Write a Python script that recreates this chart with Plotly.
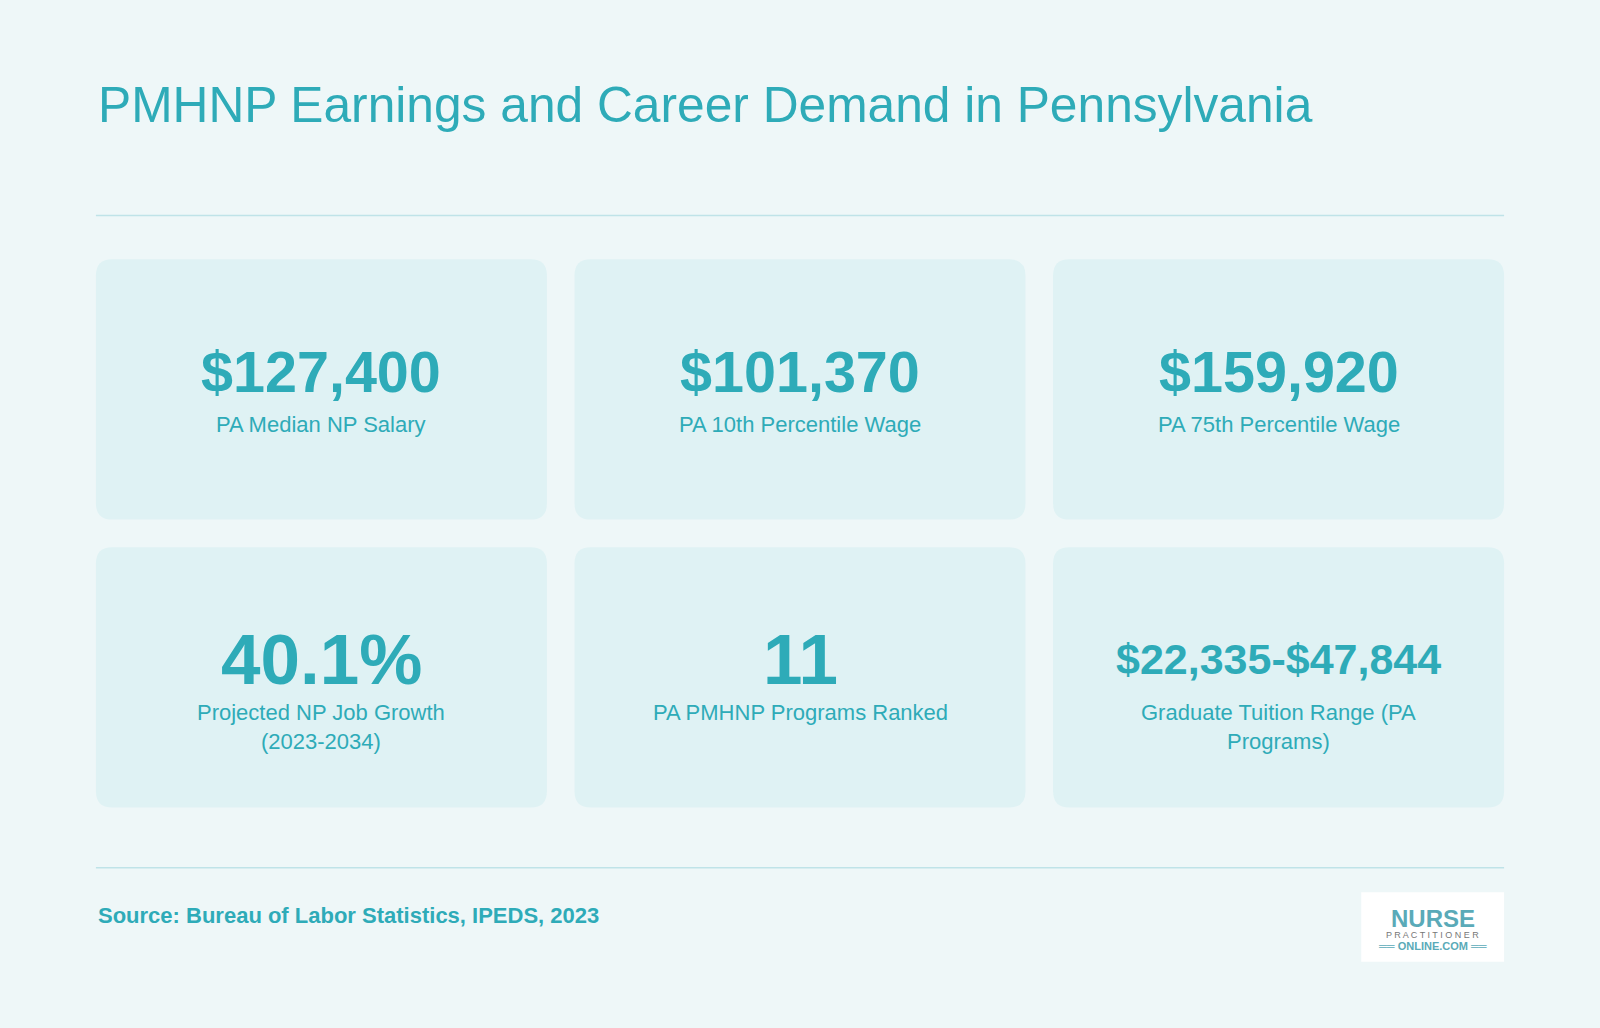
import plotly.graph_objects as go

# card contents (row by row)
values = ["$127,400", "$101,370", "$159,920", "40.1%", "11", "$22,335-$47,844"]
labels = ["PA Median NP Salary", "PA 10th Percentile Wage", "PA 75th Percentile Wage",
          "Projected NP Job Growth<br>(2023-2034)", "PA PMHNP Programs Ranked",
          "Graduate Tuition Range (PA<br>Programs)"]
value_sizes = [57.5, 57.5, 57.5, 71, 71, 43]

TEAL = "#2EABB8"
BG = "#EEF7F8"
CARD = "#DFF2F4"
FONT = "Liberation Sans, Arial, sans-serif"

W, H = 1600, 1028
# layout grid measured on a 1568-wide copy of the design
GW, GH = 1568, 1007


def rounded(x0, y0, x1, y1, r=16):
    return (f"M{x0+r},{y0} L{x1-r},{y0} Q{x1},{y0} {x1},{y0+r} L{x1},{y1-r} Q{x1},{y1} {x1-r},{y1} "
            f"L{x0+r},{y1} Q{x0},{y1} {x0},{y1-r} L{x0},{y0+r} Q{x0},{y0} {x0+r},{y0} Z")


fig = go.Figure()
shapes, annots = [], []

col_x = [94, 563, 1032]
row_y = [254, 536]
cw, ch = 442, 255

for i, (v, lab, fs) in enumerate(zip(values, labels, value_sizes)):
    x0 = col_x[i % 3]
    y0 = row_y[i // 3]
    shapes.append(dict(type="path", path=rounded(x0, y0, x0 + cw, y0 + ch), fillcolor=CARD,
                       line=dict(width=0), layer="below"))
    cx = x0 + cw / 2
    annots.append(dict(x=cx, y=y0 + 110, text=f"<b>{v}</b>", showarrow=False, yanchor="middle",
                       font=dict(family=FONT, size=fs, color=TEAL)))
    annots.append(dict(x=cx, y=y0 + 148, text=lab, showarrow=False, yanchor="top",
                       font=dict(family=FONT, size=22, color=TEAL)))

# divider lines
for yy in [211, 850]:
    shapes.append(dict(type="line", x0=94, x1=1474, y0=yy, y1=yy, line=dict(color="#BFE3E8", width=1.5)))

# logo box
shapes.append(dict(type="rect", x0=1334, x1=1474, y0=874, y1=942, fillcolor="white", line=dict(width=0)))
annots += [
    dict(x=1404, y=900, text="<b>NURSE</b>", showarrow=False, font=dict(family=FONT, size=24, color="#5AAAB8")),
    dict(x=1404, y=916, text="P R A C T I T I O N E R", showarrow=False, font=dict(family=FONT, size=9, color="#777777")),
    dict(x=1404, y=927, text="══ <b>ONLINE.COM</b> ══", showarrow=False, font=dict(family=FONT, size=11, color="#5AAAB8")),
]

annots.append(dict(x=94, y=103, xanchor="left", text="PMHNP Earnings and Career Demand in Pennsylvania",
                   showarrow=False, font=dict(family=FONT, size=49.7, color=TEAL)))
annots.append(dict(x=94, y=897, xanchor="left", text="<b>Source: Bureau of Labor Statistics, IPEDS, 2023</b>",
                   showarrow=False, font=dict(family=FONT, size=22, color=TEAL)))

fig.update_layout(
    width=W, height=H, margin=dict(l=0, r=0, t=0, b=0),
    paper_bgcolor=BG, plot_bgcolor=BG,
    xaxis=dict(range=[0, GW], visible=False, fixedrange=True),
    yaxis=dict(range=[GH, 0], visible=False, fixedrange=True),
    shapes=shapes, annotations=annots, showlegend=False,
)

fig.write_html("out.html", config={"displayModeBar": False})

# drop the default body margin so the figure fills the window
with open("out.html") as f:
    html = f.read()
html = html.replace("<body>", '<body style="margin:0;overflow:hidden;background:#EEF7F8">', 1)
with open("out.html", "w") as f:
    f.write(html)
